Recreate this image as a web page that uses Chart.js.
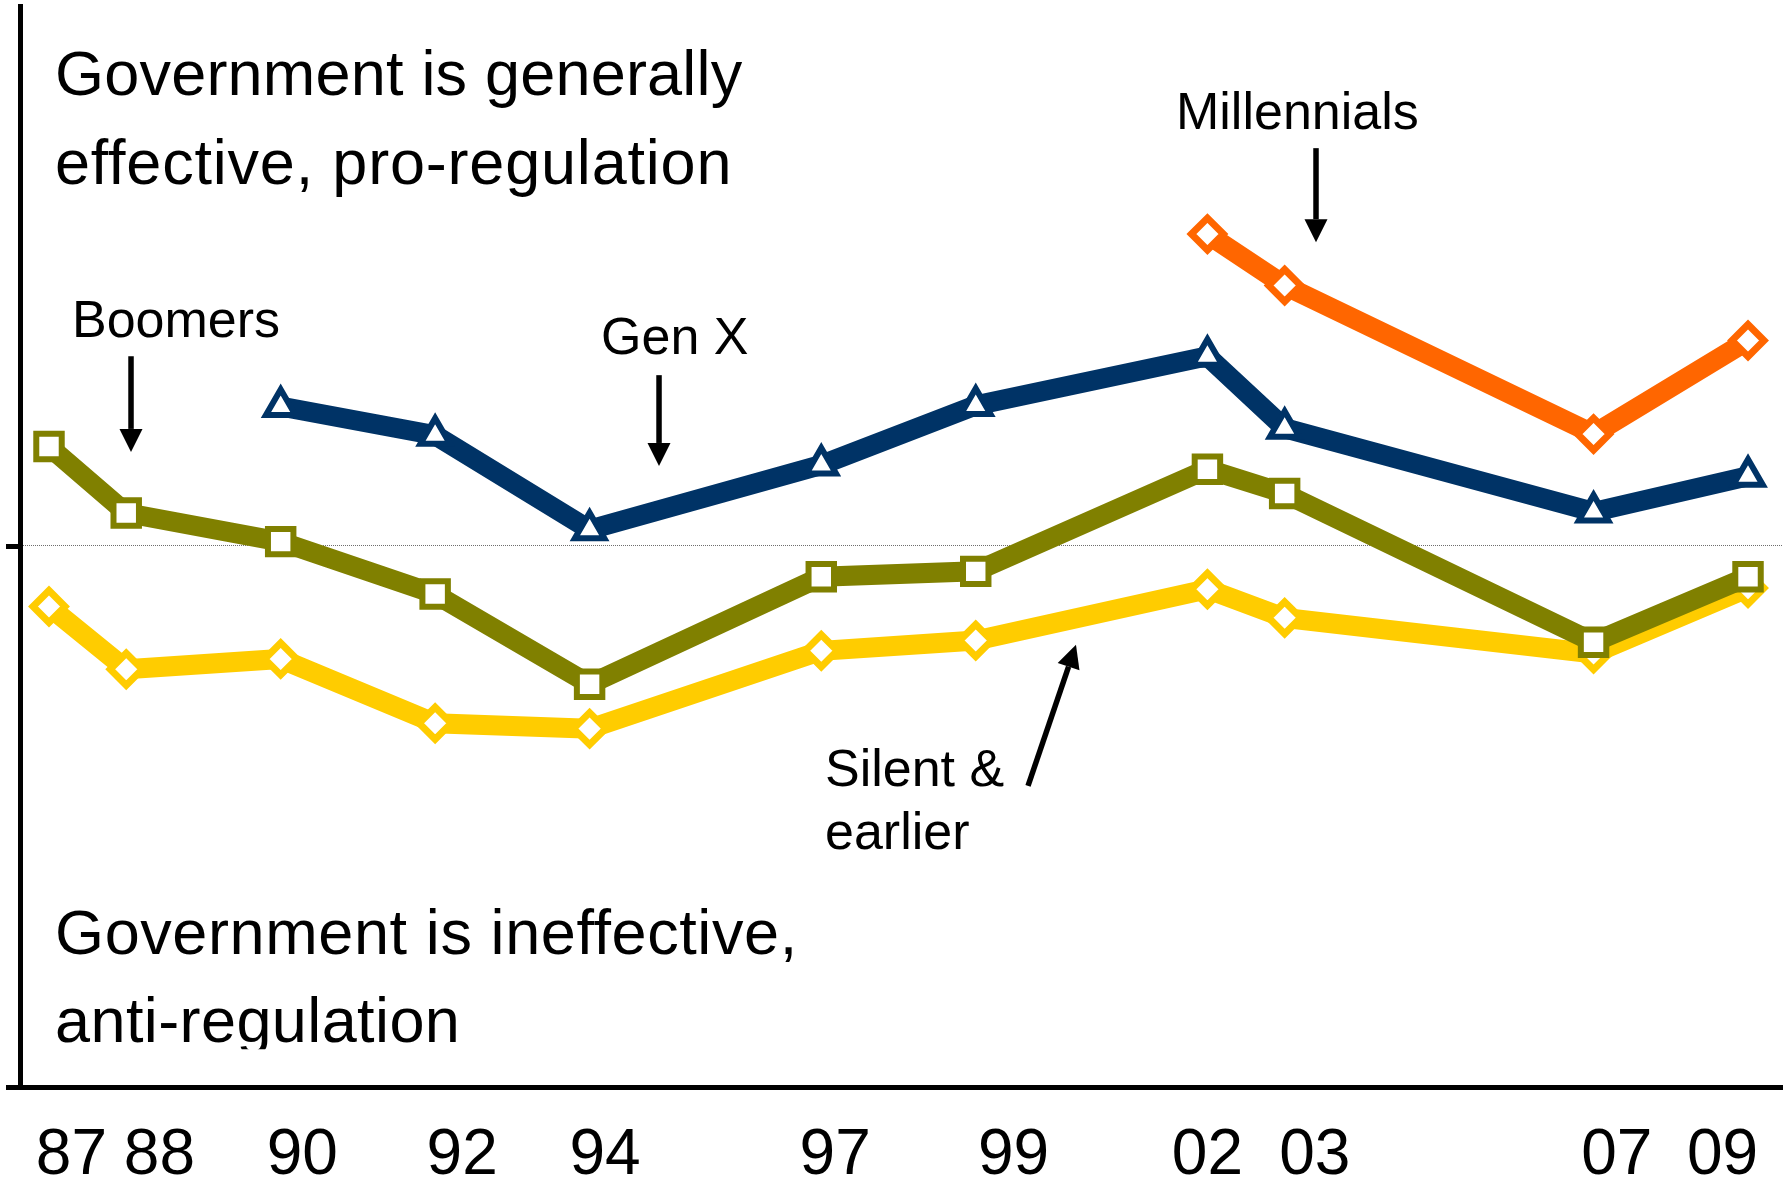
<!DOCTYPE html>
<html>
<head>
<meta charset="utf-8">
<script src="https://cdn.jsdelivr.net/npm/chart.js@4.4.0/dist/chart.umd.min.js"></script>
<style>
  html, body { margin: 0; padding: 0; background: #fff; }
  canvas { display: block; }
</style>
</head>
<body>
<canvas id="genChart" width="1791" height="1185"></canvas>
<script>
// survey years and the short labels printed under the axis
const surveyYears = [1987, 1988, 1990, 1992, 1994, 1997, 1999, 2002, 2003, 2007, 2009];
const yearLabels = ['87', '88', '90', '92', '94', '97', '99', '02', '03', '07', '09'];
// where each label sits along the year axis
const labelYears = [1987.29, 1988.43, 1990.28, 1992.35, 1994.20, 1997.18, 1999.49, 2002.0, 2003.39, 2007.30, 2008.67];

// index: above 0 = government effective / pro-regulation
const millennials = [null, null, null, null, null, null, null, 57.8, 48.3, 20.8, 38.1];
const genX = [null, null, 25.9, 20.6, 3.1, 15.1, 26.1, 35.2, 21.9, 6.4, 13.0];
const boomers = [18.5, 6.2, 0.9, -8.8, -25.5, -5.6, -4.6, 14.3, 9.8, -17.7, -5.6];
const silent = [-11.1, -22.7, -20.8, -32.7, -33.7, -19.3, -17.4, -7.9, -13.2, -19.8, -7.7];

const FONT = "'Liberation Sans', Arial, sans-serif";

function points(values) {
    return surveyYears
        .map((yr, i) => ({ x: yr, y: values[i] }))
        .filter(p => p.y !== null);
}

function series(label, values, color, style, radius, bw) {
    return {
        label: label,
        data: points(values),
        borderColor: color,
        borderWidth: 20,
        pointStyle: style,
        pointRadius: radius,
        pointBorderWidth: bw,
        pointBorderColor: color,
        pointBackgroundColor: '#fff',
        pointHoverRadius: radius,
        tension: 0,
        fill: false
    };
}

// text notes and arrows, placed in year / index units
const notes = [
    { text: 'Government is generally', x: 1987.078, y: 83.5, size: 63, spacing: 0.2 },
    { text: 'effective, pro-regulation', x: 1987.078, y: 67.1, size: 63, spacing: 0.8 },
    { text: 'Government is ineffective,', x: 1987.078, y: -75.4, size: 63, spacing: 0.6 },
    { text: 'anti-regulation', x: 1987.078, y: -91.7, size: 63, spacing: 0.4, clipBelow: -93.0 },
    { text: 'Boomers', x: 1987.298, y: 38.8, size: 52 },
    { text: 'Gen X', x: 1994.148, y: 35.6, size: 52 },
    { text: 'Millennials', x: 2001.593, y: 77.2, size: 52 },
    { text: 'Silent &', x: 1997.048, y: -44.3, size: 52 },
    { text: 'earlier', x: 1997.048, y: -56.0, size: 52 }
];
const arrows = [
    { from: [1988.062, 35.2], to: [1988.062, 17.5] },
    { from: [1994.899, 31.7], to: [1994.899, 14.9] },
    { from: [2003.406, 73.7], to: [2003.406, 56.3] },
    { from: [1999.677, -44.3], to: [2000.298, -18.2] }
];

// dotted reference line at zero
const zeroLine = {
    id: 'zeroLine',
    beforeDatasetsDraw(chart) {
        const { ctx, chartArea, scales } = chart;
        const py = Math.round(scales.y.getPixelForValue(0)) - 2 + 0.5;
        ctx.save();
        ctx.strokeStyle = '#6e6e6e';
        ctx.lineWidth = 1;
        ctx.setLineDash([1, 1]);
        ctx.beginPath();
        ctx.moveTo(chartArea.left + 3, py);
        ctx.lineTo(chartArea.right, py);
        ctx.stroke();
        ctx.restore();
    }
};

function drawArrow(ctx, x1, y1, x2, y2) {
    const ang = Math.atan2(y2 - y1, x2 - x1);
    const headLen = 23, headHalf = 11.5;
    const bx = x2 - Math.cos(ang) * headLen;
    const by = y2 - Math.sin(ang) * headLen;
    ctx.beginPath();
    ctx.moveTo(x1, y1);
    ctx.lineTo(bx, by);
    ctx.lineWidth = 5.5;
    ctx.stroke();
    ctx.beginPath();
    ctx.moveTo(x2, y2);
    ctx.lineTo(bx + Math.sin(ang) * headHalf, by - Math.cos(ang) * headHalf);
    ctx.lineTo(bx - Math.sin(ang) * headHalf, by + Math.cos(ang) * headHalf);
    ctx.closePath();
    ctx.fill();
}

const annotations = {
    id: 'annotations',
    afterDraw(chart) {
        const { ctx, scales: { x, y } } = chart;
        ctx.save();
        ctx.fillStyle = '#000';
        ctx.strokeStyle = '#000';
        ctx.textBaseline = 'alphabetic';
        ctx.textAlign = 'left';
        notes.forEach(n => {
            ctx.save();
            if (n.clipBelow !== undefined) {
                ctx.beginPath();
                ctx.rect(0, 0, chart.width, y.getPixelForValue(n.clipBelow));
                ctx.clip();
            }
            ctx.font = n.size + 'px ' + FONT;
            ctx.letterSpacing = (n.spacing || 0) + 'px';
            ctx.fillText(n.text, x.getPixelForValue(n.x), y.getPixelForValue(n.y));
            ctx.restore();
        });
        arrows.forEach(a => {
            drawArrow(ctx,
                x.getPixelForValue(a.from[0]), y.getPixelForValue(a.from[1]),
                x.getPixelForValue(a.to[0]), y.getPixelForValue(a.to[1]));
        });
        ctx.restore();
    }
};

new Chart(document.getElementById('genChart'), {
    type: 'line',
    data: {
        datasets: [
            series('Millennials', millennials, '#FF6600', 'rectRot', 16, 7),
            series('Gen X', genX, '#003366', 'triangle', 17, 6),
            series('Boomers', boomers, '#808000', 'rect', 18, 6),
            series('Silent & earlier', silent, '#FFCC00', 'rectRot', 16, 7)
        ]
    },
    options: {
        responsive: false,
        devicePixelRatio: 1,
        animation: false,
        layout: { autoPadding: false, padding: { top: 6, right: 9, left: 0, bottom: 0 } },
        plugins: {
            legend: { display: false },
            tooltip: { enabled: false }
        },
        scales: {
            x: {
                type: 'linear',
                position: 'bottom',
                min: 1986.6245,
                max: 2009.44,
                grid: { display: false, drawTicks: false },
                border: { display: true, color: '#000', width: 5 },
                afterBuildTicks: s => { s.ticks = labelYears.map(v => ({ value: v })); },
                afterFit: s => { s.height = 98; },
                ticks: {
                    autoSkip: false,
                    maxRotation: 0,
                    padding: 31,
                    color: '#000',
                    font: { family: FONT, size: 64 },
                    callback: (v, i) => yearLabels[i]
                }
            },
            y: {
                type: 'linear',
                position: 'left',
                min: -100,
                max: 100,
                afterBuildTicks: s => { s.ticks = [{ value: -100 }, { value: 0 }]; },
                afterFit: s => { s.width = 20; },
                grid: {
                    display: true,
                    drawOnChartArea: false,
                    drawTicks: true,
                    tickLength: 14,
                    tickWidth: 5,
                    tickColor: '#000'
                },
                border: { display: true, color: '#000', width: 5 },
                ticks: { display: false }
            }
        }
    },
    plugins: [zeroLine, annotations]
});
</script>
</body>
</html>
